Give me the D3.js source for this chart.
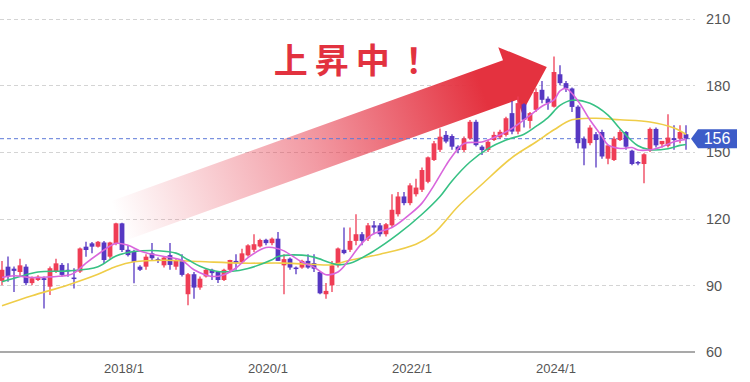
<!DOCTYPE html>
<html>
<head>
<meta charset="utf-8">
<title>上昇中</title>
<script src="https://cdn.jsdelivr.net/npm/d3@7"></script>
<style>
  body { margin: 0; background: #fff; }
  svg { display: block; font-family: "Liberation Sans", Arial, sans-serif; }
  .grid line { stroke: #d4d4d4; stroke-width: 1; stroke-dasharray: 4 3; }
  .ylab { fill: #555; font-size: 14.5px; }
  .xlab { fill: #555; font-size: 13px; }
</style>
</head>
<body>
<div id="chart"></div>
<script>

// monthly candles, first one is 2016/5
var firstYear = 2016, firstMonth = 5;

var opens = [92, 98.4, 97.5, 96, 98.4, 91, 92.4, 93.2, 89.4, 96.2, 99.2, 97, 93.5, 96.2, 107.4, 108.9, 107.4, 109.3, 102.9, 108.9, 117.9, 106, 105.5,
  98.4, 98.4, 104.4, 101.8, 99, 103.6, 98.4, 101.4, 86, 95, 89, 94, 97, 96, 92.4, 97, 101, 100.5, 103.5, 106, 107.5, 110.5,
  109, 111, 99, 102, 98, 98, 101, 100, 96, 86, 90, 99, 106, 106, 110, 113, 111, 117, 117, 113, 117, 122, 130,
  127, 131, 133, 136.6, 146.4, 151, 157.7, 157.2, 152.4, 150.9, 156.1, 163.6, 152.4, 150.9, 155.4, 156.6, 157.7, 167.5, 159.2, 171.5, 164, 169, 178, 174, 170.4,
  185, 181, 178.6, 170.4, 156, 154, 158, 159, 147, 146.4, 155.4, 159, 150.6, 145.5, 144.6, 150.6, 160.4, 153.5, 152.8, 156.2, 156, 158];

var highs = [101, 103, 98.5, 102, 99.5, 94, 94.5, 94, 98.5, 102, 100, 99.9, 97.7, 107, 109.6, 109.5, 110, 110, 109.6, 118.2, 118.2, 108, 106,
  99, 104, 109, 102.5, 103, 109, 102, 104, 95.5, 96, 94, 97.5, 97.5, 96.5, 97.5, 101.5, 104, 106.5, 108.5, 113, 111, 111,
  111.5, 114, 104, 102.5, 98.5, 101.5, 104, 104, 96.5, 91, 101, 107, 116, 116, 122, 114, 118, 119, 118, 118, 131, 132, 132,
  136, 138, 143, 148, 155, 160.6, 159.5, 158, 153, 157, 164.4, 164.5, 153, 155.5, 159.1, 160, 165.9, 173, 175, 172, 168, 178.7, 182, 175, 193,
  189, 182, 179, 171, 157, 162, 159, 160, 153, 157, 160, 159.5, 151, 146, 149.5, 161, 161, 155, 167, 162, 162, 162];

var lows = [90, 91.6, 87, 94, 90, 90, 92, 79.6, 85.6, 95.5, 94, 93.9, 88.6, 95.5, 102.9, 104.4, 107, 99.9, 102, 108, 105, 103, 90.9,
  96.5, 97, 101, 100, 98, 97, 97, 94, 81, 84, 88, 93.5, 92.4, 91, 92, 96, 97, 100, 103, 105, 107, 108,
  108, 101, 86, 97, 95, 97.5, 97.5, 96, 86, 84, 87, 98, 104, 105, 108, 108, 110, 113, 112, 112, 116, 121, 126,
  126, 130, 132, 136, 146, 150, 154, 151, 149.4, 150, 155.5, 152.5, 148.7, 150, 155, 156, 157, 158, 158, 161, 160.6, 168, 172, 169, 170,
  180, 177, 168, 151.6, 144, 153, 143, 147, 144.5, 146, 155, 151, 144, 144, 135.9, 150, 152, 152, 152, 151, 154, 151];

var closes = [97, 94, 96.5, 99, 91, 93.2, 93.9, 92.4, 97.7, 99.9, 94.7, 96.5, 93.2, 106.6, 105.9, 107.4, 109.6, 101.4, 109.3, 117.9, 105.9, 103.6, 100.6,
  97, 102.9, 102.2, 101, 102.5, 99.2, 101.4, 94.7, 95, 89, 93, 97, 95.5, 92.4, 97, 101.4, 100, 104.4, 108, 108.5, 110.4, 109,
  111, 101, 101.8, 98, 97.5, 101, 98, 97.5, 86.4, 87.5, 99, 106.6, 104.5, 110, 113, 110, 117, 116, 113, 117.5, 124, 130, 127,
  135, 134, 141.9, 147.6, 153.9, 156.9, 154.7, 152.4, 150.9, 156.1, 163.6, 153.1, 150.9, 154.6, 157.7, 159.1, 165.2, 159.2, 172, 164.5, 167.5, 177, 173.5, 172, 186,
  181, 178.6, 170.3, 154, 151.6, 161, 155.4, 148, 153, 156, 159, 152.4, 144.6, 144.9, 149, 160.4, 153, 155, 156.5, 155.4, 159, 156];

// moving averages: [candle index, value]
var maShort = [[0,93.5],[2,94.3],[5,93.5],[8,93.8],[11,94.5],[12,95.5],[14,100],[16,104],[19,108.9],[21,108],[23,105.5],[25,104],[27,103],
  [30,101.2],[32,97],[35,94],[37,94.8],[39,97.8],[41,102.5],[44,107],[46,106.5],[47,105.5],[50,100.5],[52,98.2],[54,94.8],[56,96],
  [58,102],[60,109],[62,113.3],[65,116],[68,122],[70,127],[72,135],[74,144],[75,148],[77,153.8],[80,154.5],[83,157.7],[85,160.6],
  [88,166.5],[90,170.6],[92,173.5],[93,177.5],[94,178.6],[96,173],[98,164.4],[100,157],[101,153.2],[103,151.6],[105,152],[106,150.9],
  [108,151],[110,152.4],[112,154.6],[114,155.7]];

var maMid = [[0,91.6],[3,94],[6,96],[11,96.5],[16,98.4],[19,103.2],[22,105.2],[26,105.6],[29,104.5],[31,101.5],[33,98.6],[36,96.2],
  [38,96.2],[41,97.6],[45,101.5],[46,103],[50,103.6],[52,102.7],[56,99.3],[58,99.9],[62,105.5],[66,113],[70,122],[73,130],[75,137],
  [78,145.5],[81,151.5],[84,155.4],[87,158],[89,161.5],[91,165.5],[93,171],[95,173.3],[98,171.9],[101,166.6],[103,160.5],[106,152.8],
  [108,151],[111,151.5],[113,153],[114,153.4]];

var maLong = [[0,80.8],[5,85.3],[11,90.2],[16,95],[19,98.5],[22,100.6],[27,101.3],[33,100.7],[40,100],[47,100],[52,99.4],[55,99.3],
  [58,101.3],[63,104],[69,108.5],[72,113.5],[76,125.5],[80,135.5],[85,147.5],[89,154.5],[92,160],[95,164.5],[99,165.2],[103,164.5],
  [108,163.5],[112,160.8],[114,158]];

var yTicks = [60, 90, 120, 150, 180, 210];
var lastPrice = 156;
var headline = "上昇中！";
// arrow from/to in [candle index, value]
var arrowFrom = [19.3, 119], arrowTo = [90.8, 188.3];

var width = 750, height = 382;
var plotRight = 695;

var svg = d3.select("#chart").append("svg").attr("width", width).attr("height", height);

var x = d3.scaleLinear().domain([-1 / 3, 115 + 5 / 6]).range([0, 697]);
var y = d3.scaleLinear().domain([60, 210]).range([352, 18.7]);

function monthOf(i) {
  var t = firstYear * 12 + (firstMonth - 1) + i;
  return { year: Math.floor(t / 12), month: t % 12 + 1 };
}

// grid
svg.append("g").attr("class", "grid")
  .selectAll("line").data(yTicks.filter(function(d) { return d > 60; })).enter().append("line")
  .attr("x1", 0).attr("x2", plotRight)
  .attr("y1", function(d) { return Math.round(y(d)) + 0.5; })
  .attr("y2", function(d) { return Math.round(y(d)) + 0.5; });

svg.append("line")
  .attr("x1", 0).attr("x2", plotRight)
  .attr("y1", y(60)).attr("y2", y(60))
  .style("stroke", "#8c8c8c").style("stroke-width", 1.5);

// big arrow
var defs = svg.append("defs");
var p0 = [x(arrowFrom[0]), y(arrowFrom[1])], p1 = [x(arrowTo[0]), y(arrowTo[1])];
var grad = defs.append("linearGradient").attr("id", "arrowGrad")
  .attr("gradientUnits", "userSpaceOnUse")
  .attr("x1", p0[0]).attr("y1", p0[1]).attr("x2", p1[0]).attr("y2", p1[1]);
grad.append("stop").attr("offset", 0).attr("stop-color", "#e6384a").attr("stop-opacity", 0);
grad.append("stop").attr("offset", 0.45).attr("stop-color", "#e6384a").attr("stop-opacity", 0.5);
grad.append("stop").attr("offset", 0.85).attr("stop-color", "#e4323f").attr("stop-opacity", 1);
grad.append("stop").attr("offset", 1).attr("stop-color", "#e4323f").attr("stop-opacity", 1);

var dx = p1[0] - p0[0], dy = p1[1] - p0[1], len = Math.sqrt(dx * dx + dy * dy);
var ux = dx / len, uy = dy / len, nx = -uy, ny = ux;
var shaftHalf = 21, headHalf = 35, headLen = 39;
var bx = p1[0] - headLen * ux, by = p1[1] - headLen * uy;
var arrowPts = [
  [p0[0] - shaftHalf * nx, p0[1] - shaftHalf * ny],
  [bx - shaftHalf * nx, by - shaftHalf * ny],
  [bx - headHalf * nx, by - headHalf * ny],
  p1,
  [bx + headHalf * nx, by + headHalf * ny],
  [bx + shaftHalf * nx, by + shaftHalf * ny],
  [p0[0] + shaftHalf * nx, p0[1] + shaftHalf * ny]
];
svg.append("path")
  .attr("d", "M" + arrowPts.map(function(p) { return p.join(","); }).join("L") + "Z")
  .style("fill", "url(#arrowGrad)");

// last price line
svg.append("line")
  .attr("x1", 0).attr("x2", 690)
  .attr("y1", y(lastPrice)).attr("y2", y(lastPrice))
  .style("stroke", "#5d79d8").style("stroke-width", 1).style("stroke-dasharray", "4 3");

// candles
var candles = d3.range(opens.length).map(function(i) {
  return { i: i, o: opens[i], h: highs[i], l: lows[i], c: closes[i] };
});
var upColor = "#ef3d55", downColor = "#5637c2";
var bw = 4.8;
var cg = svg.append("g");
cg.selectAll("line").data(candles).enter().append("line")
  .attr("x1", function(d) { return x(d.i); }).attr("x2", function(d) { return x(d.i); })
  .attr("y1", function(d) { return y(d.h); }).attr("y2", function(d) { return y(d.l); })
  .style("stroke", function(d) { return d.c >= d.o ? upColor : downColor; })
  .style("stroke-width", 1.3);
cg.selectAll("rect").data(candles).enter().append("rect")
  .attr("x", function(d) { return x(d.i) - bw / 2; })
  .attr("width", bw)
  .attr("y", function(d) { return y(Math.max(d.o, d.c)); })
  .attr("height", function(d) { return Math.max(1.5, Math.abs(y(d.o) - y(d.c))); })
  .style("fill", function(d) { return d.c >= d.o ? upColor : downColor; });

// moving averages
var line = d3.line()
  .x(function(d) { return x(d[0]); })
  .y(function(d) { return y(d[1]); })
  .curve(d3.curveCatmullRom.alpha(0.5));
[[maLong, "#efcd48"], [maMid, "#37c184"], [maShort, "#d966dc"]].forEach(function(s) {
  svg.append("path").datum(s[0]).attr("d", line)
    .style("fill", "none").style("stroke", s[1]).style("stroke-width", 1.6);
});

// headline
svg.append("text")
  .attr("x", x(45.3)).attr("y", 73)
  .style("font-family", "'Noto Sans CJK JP', sans-serif")
  .style("font-weight", 700).style("font-size", "34px")
  .style("letter-spacing", "7px")
  .style("fill", "#e2323f")
  .text(headline);

// y labels
svg.selectAll(".ylab").data(yTicks).enter().append("text")
  .attr("class", "ylab")
  .attr("x", 706).attr("y", function(d) { return y(d); })
  .attr("dy", "0.36em")
  .text(function(d) { return d; });

// x axis labels
var xTicks = d3.range(opens.length).filter(function(i) {
  var m = monthOf(i);
  return m.month === 1 && m.year % 2 === 0;
});
svg.selectAll(".xlab").data(xTicks).enter().append("text")
  .attr("class", "xlab")
  .attr("x", function(d) { return x(d) + 2; }).attr("y", 368)
  .attr("dy", "0.36em")
  .attr("text-anchor", "middle")
  .text(function(d) { var m = monthOf(d); return m.year + "/" + m.month; });

// price badge (sits over the 150 label, as in the original)
var py = y(lastPrice);
svg.append("path")
  .attr("d", "M691," + py + "L698," + (py - 9.5) + "L737," + (py - 9.5) + "L737," + (py + 9.5) + "L698," + (py + 9.5) + "Z")
  .style("fill", "#3d5cc8");
svg.append("text")
  .attr("x", 717).attr("y", py).attr("dy", "0.36em")
  .attr("text-anchor", "middle")
  .style("fill", "#fff").style("font-size", "16px")
  .text(lastPrice);

</script>
</body>
</html>
